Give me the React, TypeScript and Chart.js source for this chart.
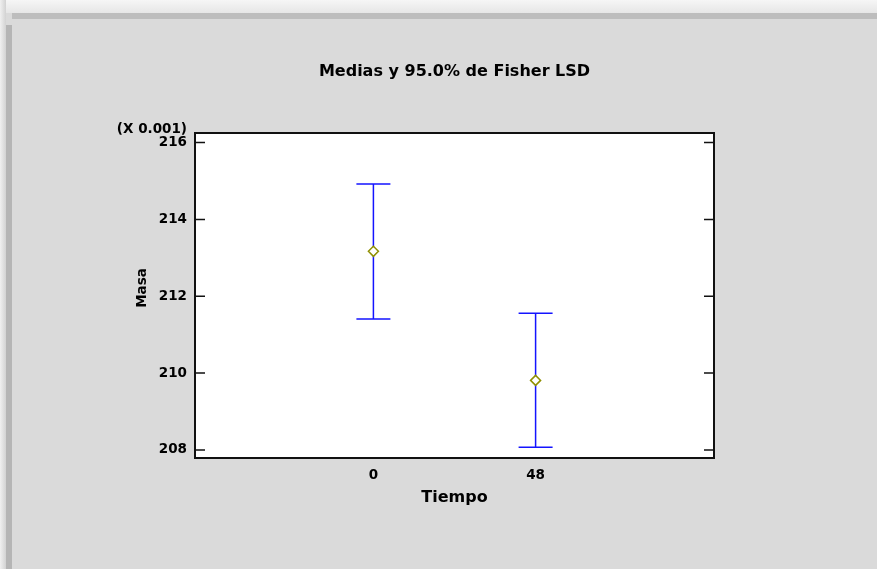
import React, { useEffect, useRef } from "react";
import { Chart, registerables } from "chart.js";

Chart.register(...registerables);

// ---- data (values in units of 0.001) ----
const categories = ["0", "48"];
const means = [213.17, 209.81];
const upper = [214.92, 211.56];
const lower = [211.41, 208.07];
const yTicks = [208, 210, 212, 214, 216];
const yMin = 207.79;
const yMax = 216.25;
const xMin = -1.1;
const xMax = 2.1;
const titleText = "Medias y 95.0% de Fisher LSD";
const xTitle = "Tiempo";
const yTitle = "Masa";
const yScaleNote = "(X 0.001)";

const FONT = "'DejaVu Sans', Verdana, sans-serif";

const decorPlugin = {
  id: "decor",
  beforeDraw(chart: any) {
    const { ctx, chartArea: a } = chart;
    ctx.save();
    ctx.fillStyle = "#ffffff";
    ctx.fillRect(a.left, a.top, a.right - a.left, a.bottom - a.top);
    ctx.restore();
  },
  beforeDatasetsDraw(chart: any) {
    const { ctx } = chart;
    const xs = chart.scales.x;
    const ys = chart.scales.y;
    ctx.save();
    ctx.strokeStyle = "#1414ff";
    ctx.lineWidth = 1.5;
    const cap = 17;
    categories.forEach((_, i) => {
      const x = xs.getPixelForValue(i);
      const yu = ys.getPixelForValue(upper[i]);
      const yl = ys.getPixelForValue(lower[i]);
      ctx.beginPath();
      ctx.moveTo(x, yu);
      ctx.lineTo(x, yl);
      ctx.moveTo(x - cap, yu);
      ctx.lineTo(x + cap, yu);
      ctx.moveTo(x - cap, yl);
      ctx.lineTo(x + cap, yl);
      ctx.stroke();
    });
    ctx.restore();
  },
  afterDraw(chart: any) {
    const { ctx, chartArea: a } = chart;
    const ys = chart.scales.y;
    ctx.save();
    ctx.strokeStyle = "#111111";
    ctx.lineWidth = 2;
    ctx.strokeRect(a.left, a.top, a.right - a.left, a.bottom - a.top);
    ctx.lineWidth = 1.5;
    yTicks.forEach((t) => {
      const y = ys.getPixelForValue(t);
      ctx.beginPath();
      ctx.moveTo(a.left, y);
      ctx.lineTo(a.left + 10, y);
      ctx.moveTo(a.right, y);
      ctx.lineTo(a.right - 10, y);
      ctx.stroke();
    });
    ctx.fillStyle = "#000000";
    // chart title
    ctx.font = `bold 16px ${FONT}`;
    ctx.textAlign = "center";
    ctx.textBaseline = "alphabetic";
    ctx.fillText(titleText, (a.left + a.right) / 2, 76);
    // x title
    ctx.fillText(xTitle, (a.left + a.right) / 2, a.bottom + 44);
    // scale note
    ctx.font = `bold 13.5px ${FONT}`;
    ctx.textAlign = "right";
    ctx.fillText(yScaleNote, a.left - 8, a.top);
    // y title (rotated)
    ctx.translate(a.left - 49, 288);
    ctx.rotate(-Math.PI / 2);
    ctx.textAlign = "center";
    ctx.font = `bold 13.5px ${FONT}`;
    ctx.fillText(yTitle, 0, 0);
    ctx.restore();
  },
};

export default function App() {
  const ref = useRef<HTMLCanvasElement | null>(null);

  useEffect(() => {
    if (!ref.current) return;
    const chart = new Chart(ref.current, {
      type: "scatter",
      data: {
        datasets: [
          {
            data: means.map((m, i) => ({ x: i, y: m })),
            pointStyle: "rectRot",
            radius: 5,
            borderColor: "#8f8f00",
            backgroundColor: "#ffffff",
            borderWidth: 1.5,
          },
        ],
      },
      options: {
        responsive: false,
        animation: false,
        layout: { padding: { left: 0, right: 163, top: 133, bottom: 0 } },
        plugins: {
          legend: { display: false },
          tooltip: { enabled: false },
          title: { display: false },
        },
        scales: {
          x: {
            type: "linear",
            min: xMin,
            max: xMax,
            grid: { display: false, drawTicks: false },
            border: { display: false },
            afterBuildTicks: (s: any) => {
              s.ticks = categories.map((_, i) => ({ value: i }));
            },
            afterFit: (s: any) => {
              s.height = 111;
            },
            ticks: {
              color: "#000000",
              padding: 9,
              font: { family: FONT, size: 13.5, weight: "bold" },
              callback: (v: any) => categories[Math.round(Number(v))] ?? "",
            },
          },
          y: {
            type: "linear",
            min: yMin,
            max: yMax,
            grid: { display: false, drawTicks: false },
            border: { display: false },
            afterBuildTicks: (s: any) => {
              s.ticks = yTicks.map((v) => ({ value: v }));
            },
            afterFit: (s: any) => {
              s.width = 195;
            },
            ticks: {
              color: "#000000",
              padding: 8,
              font: { family: FONT, size: 13.5, weight: "bold" },
              callback: (v: any) => String(v),
            },
          },
        },
      },
      plugins: [decorPlugin],
    });
    return () => chart.destroy();
  }, []);

  return (
    <div
      style={{
        position: "fixed",
        left: 0,
        top: 0,
        width: 877,
        height: 569,
        background: "#dadada",
        overflow: "hidden",
      }}
    >
      <div style={{ position: "absolute", left: 0, top: 0, width: 877, height: 13, background: "linear-gradient(#f6f6f6, #e6e6e6)" }} />
      <div style={{ position: "absolute", left: 0, top: 0, width: 6, height: 569, background: "linear-gradient(90deg, #f0f0f0, #d2d2d2)" }} />
      <div style={{ position: "absolute", left: 12, top: 13, width: 865, height: 6, background: "#bdbdbd" }} />
      <div style={{ position: "absolute", left: 6, top: 25, width: 6, height: 544, background: "#b5b5b5" }} />
      <canvas ref={ref} width={877} height={569} style={{ position: "absolute", left: 0, top: 0, display: "block" }} />
    </div>
  );
}
